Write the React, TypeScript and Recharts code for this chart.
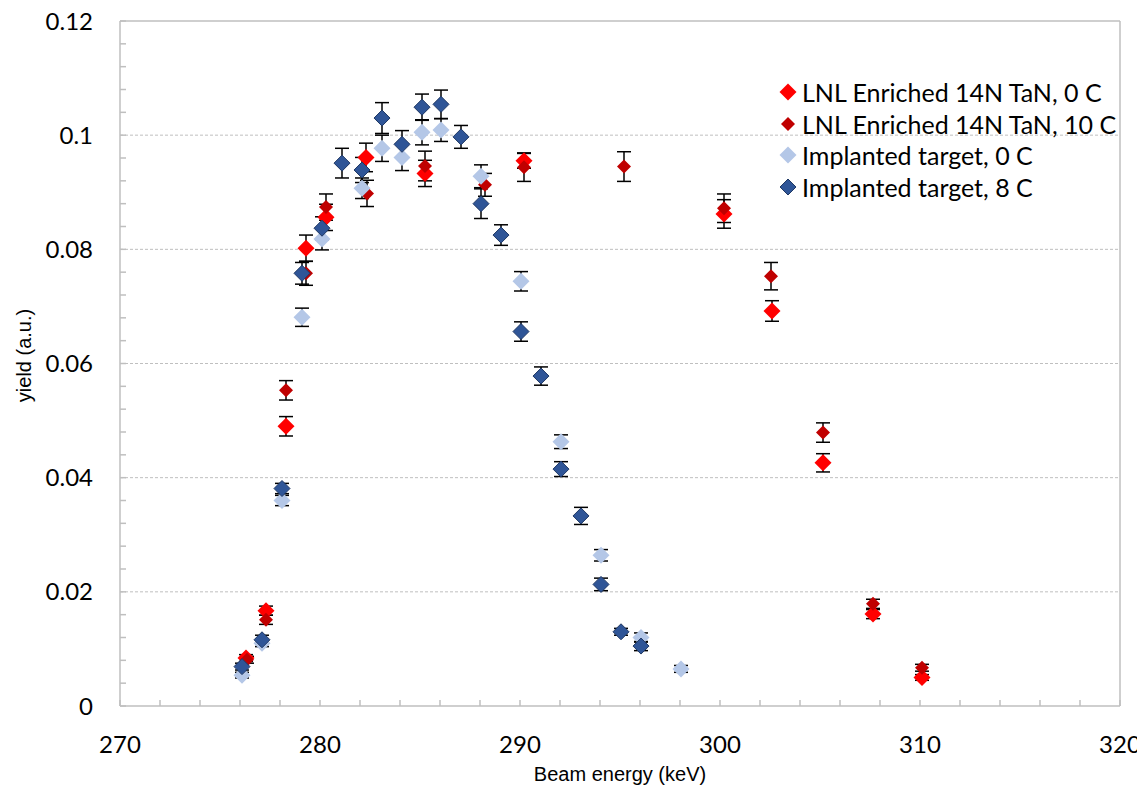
import React from 'react';
import { ScatterChart, Scatter, XAxis, YAxis, CartesianGrid, ErrorBar, Legend, ReferenceLine } from 'recharts';

// LNL Enriched 14N TaN, 0 C
const lnl0 = [
    { x: 276.3, y: 0.0084, err: 0.0006 },
    { x: 277.3, y: 0.0167, err: 0.0008 },
    { x: 278.3, y: 0.049, err: 0.0017 },
    { x: 279.3, y: 0.0802, err: 0.0023 },
    { x: 280.3, y: 0.0856, err: 0.0023 },
    { x: 282.3, y: 0.0961, err: 0.0025 },
    { x: 285.25, y: 0.0933, err: 0.0023 },
    { x: 290.2, y: 0.0955, err: 0.0013 },
    { x: 300.2, y: 0.0862, err: 0.0025 },
    { x: 302.6, y: 0.0692, err: 0.0018 },
    { x: 305.15, y: 0.0426, err: 0.0016 },
    { x: 307.65, y: 0.0161, err: 0.0008 },
    { x: 310.1, y: 0.005, err: 0.0005 },
];

// LNL Enriched 14N TaN, 10 C
const lnl10 = [
    { x: 276.35, y: 0.0081, err: 0.0006 },
    { x: 277.3, y: 0.0151, err: 0.0008 },
    { x: 278.3, y: 0.0553, err: 0.0017 },
    { x: 279.3, y: 0.0758, err: 0.0021 },
    { x: 280.3, y: 0.0874, err: 0.0023 },
    { x: 282.35, y: 0.0898, err: 0.0023 },
    { x: 285.25, y: 0.0946, err: 0.0026 },
    { x: 288.25, y: 0.0913, err: 0.002 },
    { x: 290.2, y: 0.0944, err: 0.0025 },
    { x: 295.2, y: 0.0945, err: 0.0026 },
    { x: 300.2, y: 0.0872, err: 0.0025 },
    { x: 302.55, y: 0.0753, err: 0.0024 },
    { x: 305.15, y: 0.0479, err: 0.0017 },
    { x: 307.65, y: 0.0179, err: 0.0008 },
    { x: 310.1, y: 0.0067, err: 0.0006 },
];

// Implanted target, 0 C
const impl0 = [
    { x: 276.1, y: 0.0054, err: 0.0005 },
    { x: 277.1, y: 0.011, err: 0.0006 },
    { x: 278.1, y: 0.036, err: 0.0009 },
    { x: 279.1, y: 0.0681, err: 0.0016 },
    { x: 280.1, y: 0.0818, err: 0.0019 },
    { x: 282.1, y: 0.0907, err: 0.0018 },
    { x: 283.1, y: 0.0977, err: 0.0023 },
    { x: 284.1, y: 0.0961, err: 0.0023 },
    { x: 285.1, y: 0.1005, err: 0.0022 },
    { x: 286.05, y: 0.1009, err: 0.002 },
    { x: 288.05, y: 0.0928, err: 0.002 },
    { x: 290.05, y: 0.0744, err: 0.0017 },
    { x: 292.05, y: 0.0463, err: 0.0012 },
    { x: 294.05, y: 0.0264, err: 0.001 },
    { x: 296.05, y: 0.012, err: 0.0008 },
    { x: 298.05, y: 0.0065, err: 0.0006 },
];

// Implanted target, 8 C
const impl8 = [
    { x: 276.1, y: 0.0069, err: 0.0006 },
    { x: 277.1, y: 0.0116, err: 0.0008 },
    { x: 278.1, y: 0.0381, err: 0.0009 },
    { x: 279.1, y: 0.0758, err: 0.0019 },
    { x: 280.1, y: 0.0837, err: 0.002 },
    { x: 281.1, y: 0.0951, err: 0.0026 },
    { x: 282.1, y: 0.0939, err: 0.0022 },
    { x: 283.1, y: 0.103, err: 0.0027 },
    { x: 284.1, y: 0.0984, err: 0.0024 },
    { x: 285.1, y: 0.1049, err: 0.0023 },
    { x: 286.05, y: 0.1054, err: 0.0025 },
    { x: 287.05, y: 0.0997, err: 0.002 },
    { x: 288.05, y: 0.088, err: 0.0026 },
    { x: 289.05, y: 0.0825, err: 0.0018 },
    { x: 290.05, y: 0.0656, err: 0.0017 },
    { x: 291.05, y: 0.0578, err: 0.0016 },
    { x: 292.05, y: 0.0415, err: 0.0013 },
    { x: 293.05, y: 0.0333, err: 0.0015 },
    { x: 294.05, y: 0.0213, err: 0.0011 },
    { x: 295.05, y: 0.013, err: 0.0006 },
    { x: 296.05, y: 0.0105, err: 0.0008 },
];

const xTicks = [270, 272, 274, 276, 278, 280, 282, 284, 286, 288, 290, 292, 294, 296, 298, 300, 302, 304, 306, 308, 310, 312, 314, 316, 318, 320];
const xLabels = [270, 280, 290, 300, 310, 320];
const yTicks = [
    0, 0.004, 0.008, 0.012, 0.016, 0.02, 0.024, 0.028, 0.032, 0.036, 0.04, 0.044, 0.048, 0.052, 0.056, 0.06,
    0.064, 0.068, 0.072, 0.076, 0.08, 0.084, 0.088, 0.092, 0.096, 0.1, 0.104, 0.108, 0.112, 0.116, 0.12,
];
const yLabels = [0, 0.02, 0.04, 0.06, 0.08, 0.1, 0.12];
const gridLines = [0.02, 0.04, 0.06, 0.08, 0.1];

const series = [
    { name: 'LNL Enriched 14N TaN, 0 C', data: lnl0, fill: '#FF0000', stroke: 'none', r: 8.5 },
    { name: 'LNL Enriched 14N TaN, 10 C', data: lnl10, fill: '#C00000', stroke: 'none', r: 7 },
    { name: 'Implanted target, 0 C', data: impl0, fill: '#B4C7E7', stroke: 'none', r: 8.5 },
    { name: 'Implanted target, 8 C', data: impl8, fill: '#2F5597', stroke: '#1F3864', r: 8 },
];

const AXIS = '#BFBFBF';
const FONT = 'Lato, "Open Sans", sans-serif';
const TITLE_FONT = '"Liberation Sans", Arial, sans-serif';

const Diamond = (props: any) => {
    const { cx, cy, fill, stroke, r } = props;
    if (cx == null || cy == null) return null;
    return (
        <path
            d={`M${cx},${cy - r} L${cx + r},${cy} L${cx},${cy + r} L${cx - r},${cy} Z`}
            fill={fill}
            stroke={stroke}
            strokeWidth={stroke === 'none' ? 0 : 1}
        />
    );
};

const isLabel = (v: number, labels: number[]) => labels.some((l) => Math.abs(l - v) < 1e-9);

const YTitle = (props: any) => {
    const { viewBox } = props;
    const cx = viewBox.x + 23;
    const cy = viewBox.y + viewBox.height / 2 - 8;
    return (
        <text x={cx} y={cy} transform={`rotate(-90, ${cx}, ${cy})`} textAnchor="middle"
            fontFamily={TITLE_FONT} fontSize={20} fill="#000">
            yield (a.u.)
        </text>
    );
};

const XTitle = (props: any) => {
    const { viewBox } = props;
    return (
        <text x={viewBox.x + viewBox.width / 2} y={viewBox.y + 75} textAnchor="middle"
            fontFamily={TITLE_FONT} fontSize={20} fill="#000">
            Beam energy (keV)
        </text>
    );
};

const renderLegend = () => (
    <div style={{ fontFamily: FONT, fontSize: 25, color: '#000' }}>
        {series.map((s) => (
            <div key={s.name} style={{ height: 31.7, display: 'flex', alignItems: 'center', whiteSpace: 'nowrap' }}>
                <svg width={18} height={18} style={{ flexShrink: 0 }}>
                    <Diamond cx={9} cy={9} r={s.r} fill={s.fill} stroke={s.stroke} />
                </svg>
                <span style={{ marginLeft: 5 }}>{s.name}</span>
            </div>
        ))}
    </div>
);

const App: React.FC = () => {
    return (
        <div style={{ marginTop: -8 }}>
            <ScatterChart width={1137} height={791} margin={{ top: 21, right: 25, bottom: 25, left: 0 }}>
                <CartesianGrid horizontal vertical={false} horizontalValues={gridLines} stroke={AXIS} strokeDasharray="3 2" />
                <XAxis
                    type="number"
                    dataKey="x"
                    domain={[270, 320]}
                    ticks={xTicks}
                    interval={0}
                    height={60}
                    allowDataOverflow
                    axisLine={{ stroke: AXIS, strokeWidth: 1.5 }}
                    tickLine={{ stroke: AXIS, strokeWidth: 1.5 }}
                    tickSize={-6}
                    tickMargin={36}
                    tick={{ fill: '#000', fontSize: 24, fontFamily: FONT }}
                    tickFormatter={(v: number) => (isLabel(v, xLabels) ? String(v) : '')}
                    label={<XTitle />}
                />
                <YAxis
                    type="number"
                    dataKey="y"
                    domain={[0, 0.12]}
                    ticks={yTicks}
                    interval={0}
                    width={112}
                    allowDataOverflow
                    axisLine={{ stroke: AXIS, strokeWidth: 1.5 }}
                    tickLine={{ stroke: AXIS, strokeWidth: 1.5 }}
                    tickSize={-6}
                    tickMargin={33}
                    tick={{ fill: '#000', fontSize: 24, fontFamily: FONT }}
                    tickFormatter={(v: number) => (isLabel(v, yLabels) ? String(v) : '')}
                    label={<YTitle />}
                />
                <ReferenceLine y={0.12} stroke={AXIS} strokeWidth={1.5} />
                <ReferenceLine x={320} stroke={AXIS} strokeWidth={1.5} />
                {series.map((s) => (
                    <Scatter
                        key={s.name}
                        name={s.name}
                        data={s.data}
                        fill={s.fill}
                        isAnimationActive={false}
                        shape={(p: any) => <Diamond {...p} fill={s.fill} stroke={s.stroke} r={s.r} />}
                    >
                        <ErrorBar dataKey="err" direction="y" width={7} stroke="#000" strokeWidth={1.5} />
                    </Scatter>
                ))}
                <Legend
                    content={renderLegend}
                    layout="vertical"
                    align="center"
                    verticalAlign="middle"
                    wrapperStyle={{ top: 76, left: 771, width: 360 }}
                />
            </ScatterChart>
        </div>
    );
};

export default App;
